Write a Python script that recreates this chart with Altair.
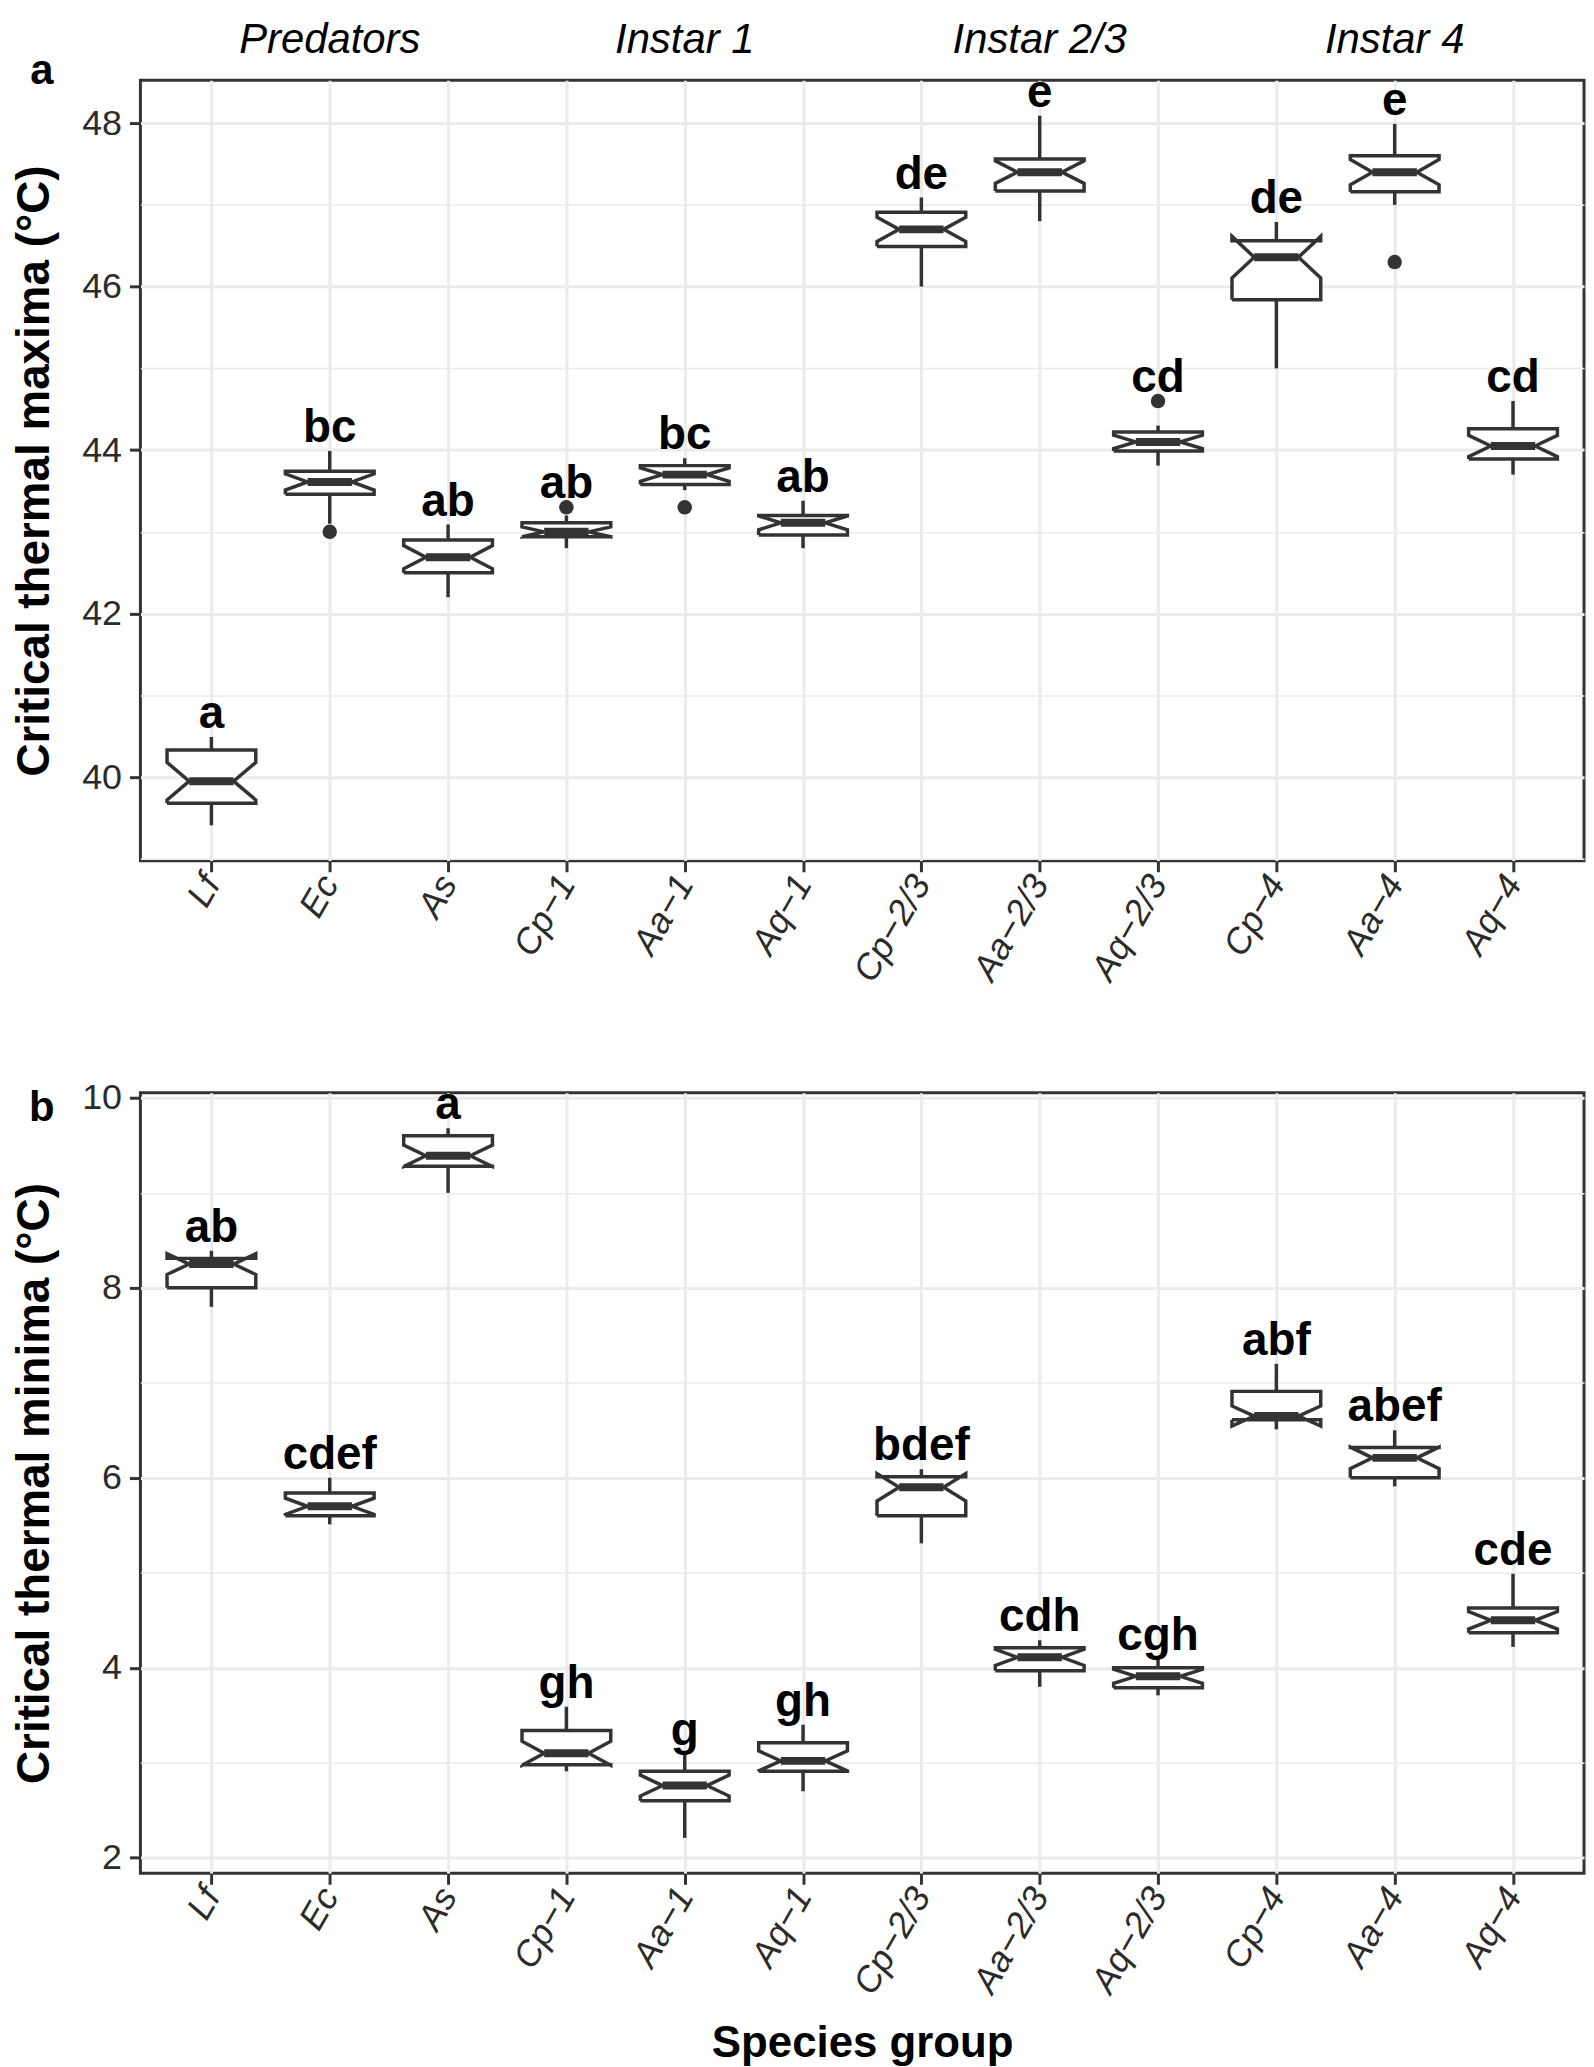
import math
import json
import altair as alt
import pandas as pd

# ---------------- data ----------------
groups = ["Lf", "Ec", "As", "Cp\u22121", "Aa\u22121", "Aq\u22121",
          "Cp\u22122/3", "Aa\u22122/3", "Aq\u22122/3", "Cp\u22124", "Aa\u22124", "Aq\u22124"]
stages = ["Predators"] * 3 + ["Instar 1"] * 3 + ["Instar 2/3"] * 3 + ["Instar 4"] * 3

# Panel a: critical thermal maxima
ctmax_lower = [39.41, 43.10, 42.20, 42.80, 43.51, 42.80, 46.00, 46.80, 43.81, 45.00, 47.00, 43.70]
ctmax_q1 = [39.68, 43.46, 42.50, 42.94, 43.58, 42.96, 46.49, 47.17, 43.99, 45.84, 47.16, 43.89]
ctmax_median = [39.95, 43.61, 42.69, 43.00, 43.70, 43.11, 46.70, 47.40, 44.10, 46.36, 47.40, 44.05]
ctmax_q3 = [40.33, 43.74, 42.90, 43.11, 43.81, 43.20, 46.91, 47.56, 44.22, 46.56, 47.60, 44.26]
ctmax_upper = [40.49, 43.99, 43.09, 43.20, 43.90, 43.38, 47.09, 48.09, 44.30, 46.79, 47.99, 44.60]
ctmax_out_group = ["Ec", "Cp\u22121", "Aa\u22121", "Aq\u22122/3", "Aa\u22124"]
ctmax_out_value = [43.0, 43.3, 43.3, 44.6, 46.3]
ctmax_letters = ["a", "bc", "ab", "ab", "bc", "ab", "de", "e", "cd", "de", "e", "cd"]

# Panel b: critical thermal minima
ctmin_lower = [7.80, 5.51, 9.00, 2.91, 2.21, 2.70, 5.31, 3.80, 3.71, 6.51, 5.91, 4.22]
ctmin_q1 = [8.00, 5.60, 9.28, 2.98, 2.60, 2.91, 5.60, 3.97, 3.79, 6.61, 6.00, 4.37]
ctmin_median = [8.25, 5.70, 9.39, 3.10, 2.76, 3.02, 5.90, 4.11, 3.91, 6.65, 6.21, 4.50]
ctmin_q3 = [8.31, 5.84, 9.60, 3.34, 2.91, 3.21, 6.01, 4.21, 4.00, 6.91, 6.32, 4.63]
ctmin_upper = [8.39, 6.00, 9.68, 3.59, 3.09, 3.40, 6.09, 4.29, 4.09, 7.20, 6.50, 4.99]
ctmin_out_group = []
ctmin_out_value = []
ctmin_letters = ["ab", "cdef", "a", "gh", "g", "gh", "bdef", "cdh", "cgh", "abf", "abef", "cde"]

N_PER_GROUP = 20  # assumed sample size, used for notch extent (ggplot: 1.58*IQR/sqrt(n))

# ---------------- style ----------------
DARK = "#333333"
GRID = "#EBEBEB"
FONT = "Liberation Sans"
BOX_W = 0.75
NOTCH_W = 0.5
PLOT_W = 1450
PLOT_H = 784


def make_panel(lower, q1, med, q3, upper, out_g, out_v, letters,
               ytitle, tag, tag_y, show_headers, xtitle):
    n = len(groups)
    idx = {g: i for i, g in enumerate(groups)}
    lo = min(lower + out_v)
    hi = max(upper + out_v)
    ex = 0.05 * (hi - lo)
    ydom = [lo - ex, hi + ex]
    yvals = list(range(math.ceil(ydom[0]), math.floor(ydom[1]) + 1))

    xscale = alt.Scale(domain=[-0.6, n - 1 + 0.6], nice=False, zero=False)
    yscale = alt.Scale(domain=ydom, nice=False, zero=False)

    xaxis_kw = dict(
        values=list(range(n)),
        labelExpr=json.dumps(groups) + "[datum.value]",
        labelAngle=300, labelAlign="right", labelBaseline="middle",
        labelFont=FONT, labelFontSize=36, labelFontStyle="italic",
        labelColor="#2b2b2b", labelPadding=6,
        grid=True, gridColor=GRID, gridWidth=3,
        tickColor=DARK, tickWidth=3, tickSize=11, domain=False,
        titleFont=FONT, titleFontSize=44, titleFontWeight="bold",
        titleColor="black", titlePadding=22,
    )
    if xtitle:
        xaxis = alt.Axis(title=xtitle, **xaxis_kw)
    else:
        xaxis = alt.Axis(title=None, **xaxis_kw)

    yaxis = alt.Axis(
        title=ytitle, values=yvals,
        labelExpr="datum.value % 2 == 0 ? datum.label : ''",
        labelFont=FONT, labelFontSize=36, labelColor="#2b2b2b", labelPadding=8,
        grid=True, gridColor=GRID,
        gridWidth={"condition": {"test": "datum.value % 2 == 0", "value": 3}, "value": 1.5},
        tickOpacity={"condition": {"test": "datum.value % 2 != 0", "value": 0}, "value": 1},
        tickColor=DARK, tickWidth=3, tickSize=11, domain=False,
        titleFont=FONT, titleFontSize=46, titleFontWeight="bold",
        titleColor="black", titlePadding=23,
    )

    def X(field):
        return alt.X(field, type="quantitative", scale=xscale, axis=xaxis)

    def Y(field):
        return alt.Y(field, type="quantitative", scale=yscale, axis=yaxis)

    # whiskers
    wrows = []
    for i in range(n):
        wrows.append({"x": i, "y": q3[i], "y2": upper[i]})
        wrows.append({"x": i, "y": q1[i], "y2": lower[i]})
    whisk = alt.Chart(pd.DataFrame(wrows)).mark_rule(
        color=DARK, strokeWidth=3.5).encode(x=X("x"), y=Y("y"), y2="y2:Q")

    # notched boxes as closed outlines
    brows = []
    h = BOX_W / 2
    hw = h * NOTCH_W
    for i in range(n):
        half = 1.58 * (q3[i] - q1[i]) / math.sqrt(N_PER_GROUP)
        nl, nu = med[i] - half, med[i] + half
        pts = [(i - h, q1[i]), (i - h, nl), (i - hw, med[i]), (i - h, nu), (i - h, q3[i]),
               (i + h, q3[i]), (i + h, nu), (i + hw, med[i]), (i + h, nl), (i + h, q1[i]),
               (i - h, q1[i])]
        for k, (px, py) in enumerate(pts):
            brows.append({"g": groups[i], "k": k, "x": px, "y": py})
    box = alt.Chart(pd.DataFrame(brows)).mark_line(
        fill="white", stroke=DARK, strokeWidth=3.5, strokeJoin="miter").encode(
        x=X("x"), y=Y("y"), detail="g:N", order="k:Q")

    # medians
    mrows = [{"x": i - hw, "x2": i + hw, "y": med[i]} for i in range(n)]
    medl = alt.Chart(pd.DataFrame(mrows)).mark_rule(
        color=DARK, strokeWidth=8).encode(x=X("x"), x2="x2:Q", y=Y("y"))

    layers = [whisk, box, medl]

    if out_g:
        orows = [{"x": idx[g], "y": v} for g, v in zip(out_g, out_v)]
        outl = alt.Chart(pd.DataFrame(orows)).mark_circle(
            color=DARK, opacity=1, size=210).encode(x=X("x"), y=Y("y"))
        layers.append(outl)

    # significance letters above the highest point of each group
    top = list(upper)
    for g, v in zip(out_g, out_v):
        top[idx[g]] = max(top[idx[g]], v)
    lrows = [{"x": i, "y": top[i], "t": letters[i]} for i in range(n)]
    lett = alt.Chart(pd.DataFrame(lrows)).mark_text(
        font=FONT, fontSize=46, fontWeight="bold", color="black",
        baseline="alphabetic", dy=-9).encode(x=X("x"), y=Y("y"), text="t:N")
    layers.append(lett)

    if show_headers:
        hrows = []
        for s in dict.fromkeys(stages):
            members = [i for i, st in enumerate(stages) if st == s]
            hrows.append({"x": sum(members) / len(members), "t": s})
        head = alt.Chart(pd.DataFrame(hrows)).mark_text(
            font=FONT, fontSize=42, fontStyle="italic", color="black",
            baseline="alphabetic").encode(x=X("x"), y=alt.value(-27), text="t:N")
        layers.append(head)

    tagl = alt.Chart(pd.DataFrame([{"t": tag}])).mark_text(
        font=FONT, fontSize=42, fontWeight="bold", color="black",
        baseline="alphabetic", align="center").encode(
        x=alt.value(-99), y=alt.value(tag_y), text="t:N")
    layers.append(tagl)

    return alt.layer(*layers).properties(width=PLOT_W, height=PLOT_H)


panel_a = make_panel(ctmax_lower, ctmax_q1, ctmax_median, ctmax_q3, ctmax_upper,
                     ctmax_out_group, ctmax_out_value, ctmax_letters,
                     "Critical thermal maxima (\u00b0C)", "a", 4, True, None)
panel_b = make_panel(ctmin_lower, ctmin_q1, ctmin_median, ctmin_q3, ctmin_upper,
                     ctmin_out_group, ctmin_out_value, ctmin_letters,
                     "Critical thermal minima (\u00b0C)", "b", 28, False, "Species group")

chart = alt.vconcat(panel_a, panel_b, spacing=89).properties(
    padding={"left": 2, "right": 0, "top": 5, "bottom": 0},
    background="white",
).configure(font=FONT).configure_view(stroke=DARK, strokeWidth=3)

chart.save("out.html", embed_options={"renderer": "svg", "actions": False})
